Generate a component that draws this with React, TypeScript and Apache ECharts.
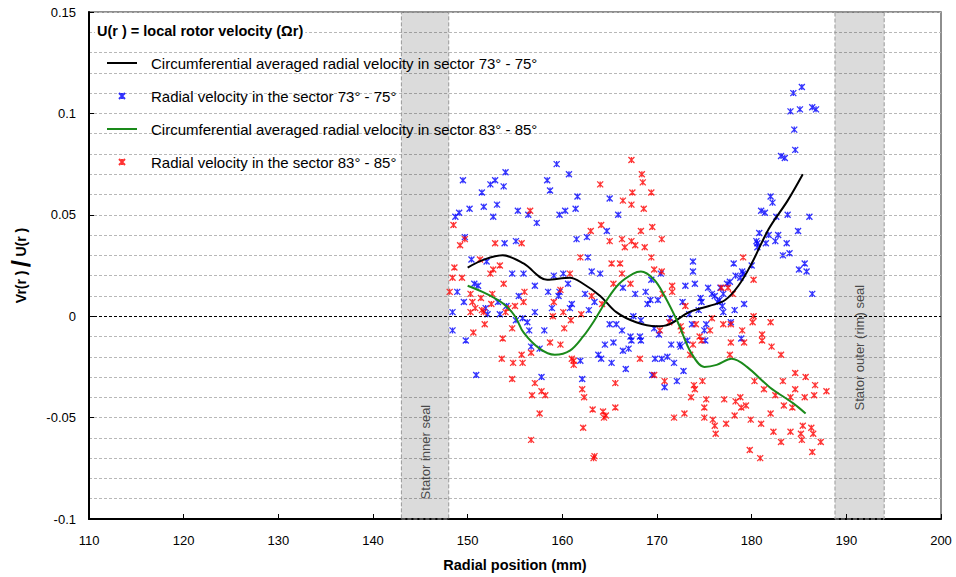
import React, { useEffect, useRef } from "react";
import * as echarts from "echarts";

// Radial velocity samples, sector 73° - 75° : [radial position (mm), Vr/U]
const sector73Points: [number, number][] = [
  [149.5, 0.067], [148.7, 0.049], [149.1, 0.051], [150.2, 0.053], [149.7, 0.039], [150.4, 0.028],
  [151.5, 0.061], [151.7, 0.054], [152.4, 0.065], [152.9, 0.067], [154.0, 0.071], [153.8, 0.064],
  [153.1, 0.055], [152.7, 0.049], [153.9, 0.036], [155.1, 0.037], [155.3, 0.052], [156.4, 0.050],
  [157.3, 0.046], [158.4, 0.067], [158.7, 0.062], [159.4, 0.075], [160.7, 0.070], [159.7, 0.050],
  [160.3, 0.052], [161.4, 0.053], [161.6, 0.059], [161.5, 0.038], [162.6, 0.039], [162.7, 0.029],
  [165.0, 0.058], [165.9, 0.050], [164.7, 0.042], [163.1, 0.022], [164.0, 0.021], [154.7, 0.021],
  [155.9, 0.021], [159.1, 0.020], [160.1, 0.021], [152.0, 0.027],
  [185.3, 0.113], [184.4, 0.110], [184.1, 0.101], [185.1, 0.102], [186.4, 0.103], [186.8, 0.102],
  [184.5, 0.092], [184.6, 0.082], [183.1, 0.079], [183.5, 0.078], [182.0, 0.059], [182.2, 0.056],
  [181.0, 0.052], [181.4, 0.051], [182.6, 0.049], [183.8, 0.050], [186.1, 0.049], [184.9, 0.042],
  [180.8, 0.041], [181.8, 0.040], [182.8, 0.040], [182.5, 0.037], [180.5, 0.037], [180.6, 0.036],
  [181.5, 0.036], [183.7, 0.036], [180.6, 0.034], [183.3, 0.030], [184.0, 0.031], [185.6, 0.026],
  [185.0, 0.023], [185.8, 0.022], [173.8, 0.027], [173.8, 0.022], [178.1, 0.026], [179.0, 0.022],
  [180.0, 0.025],
  [150.7, 0.016], [151.1, 0.015], [148.9, 0.012], [148.4, 0.002], [149.6, 0.007], [151.9, 0.004],
  [152.1, 0.001], [153.2, 0.007], [154.1, 0.005], [153.4, 0.001], [155.4, 0.010], [157.1, 0.015],
  [158.5, 0.012], [159.6, 0.010], [159.7, 0.012], [160.6, 0.016], [158.9, 0.004], [161.0, 0.006],
  [160.8, 0.004], [157.1, 0.002], [162.4, 0.011], [163.4, 0.007], [162.8, 0.003], [155.8, -0.001],
  [156.3, -0.003], [155.1, -0.002], [148.4, -0.007], [149.8, -0.012], [156.5, -0.007], [158.1, -0.007],
  [156.7, -0.015], [157.6, -0.016], [165.0, -0.004], [165.7, -0.004], [166.3, -0.007], [167.2, -0.010],
  [167.3, -0.012], [164.5, -0.014], [165.4, -0.013], [166.4, -0.017], [167.0, -0.016], [163.8, -0.019],
  [164.1, -0.021], [161.9, -0.022], [165.2, -0.023], [166.7, -0.026], [150.9, -0.029], [157.8, -0.030],
  [162.1, -0.031], [166.4, 0.014],
  [170.4, 0.021], [169.4, 0.018], [173.0, 0.015], [174.0, 0.016], [167.7, 0.011], [168.8, 0.012],
  [169.3, 0.008], [170.1, 0.008], [169.0, 0.006], [175.4, 0.014], [175.8, 0.011], [176.1, 0.010],
  [177.0, 0.011], [176.7, 0.014], [177.4, 0.016], [177.7, 0.017], [178.3, 0.020], [178.8, 0.019],
  [179.1, 0.021], [174.6, 0.009], [174.7, 0.007], [172.7, 0.007], [176.4, 0.007], [176.9, 0.005],
  [174.4, 0.003], [173.4, 0.001], [178.2, 0.003], [179.2, 0.006], [177.0, 0.002], [167.5, 0.000],
  [168.3, -0.002], [171.4, -0.001], [173.7, -0.004], [175.2, -0.004], [175.0, -0.007], [177.8, -0.003],
  [169.7, -0.006], [170.2, -0.009], [168.2, -0.010], [168.3, -0.012], [173.2, -0.012], [175.1, -0.012],
  [178.9, -0.011], [171.5, -0.014], [172.4, -0.014], [172.5, -0.015], [169.8, -0.021], [170.5, -0.021],
  [171.1, -0.020], [171.8, -0.023], [172.8, -0.027], [169.5, -0.029], [170.8, -0.035], [172.1, -0.032],
  [186.4, 0.011], [176.6, 0.008],
];

// Radial velocity samples, sector 83° - 85°
const sector83Points: [number, number][] = [
  [148.5, 0.045], [149.7, 0.038], [149.2, 0.035], [152.9, 0.036], [155.7, 0.036], [156.6, 0.052],
  [164.0, 0.065], [166.4, 0.057], [167.3, 0.055], [167.4, 0.061], [167.3, 0.077], [164.1, 0.045],
  [163.0, 0.042], [165.0, 0.037], [166.3, 0.038], [166.6, 0.034], [167.3, 0.037], [161.9, 0.029],
  [151.3, 0.028], [148.6, 0.024], [152.7, 0.023], [153.4, 0.025], [152.4, 0.021], [160.8, 0.021],
  [165.2, 0.026], [166.1, 0.026], [166.3, 0.021],
  [168.4, 0.070], [168.5, 0.066], [169.4, 0.061], [168.6, 0.053], [168.3, 0.042], [169.5, 0.044],
  [167.7, 0.035], [168.7, 0.034], [170.5, 0.038], [169.4, 0.029], [169.7, 0.023], [170.5, 0.022],
  [179.1, 0.029],
  [148.4, 0.019], [149.4, 0.019], [153.8, 0.016], [148.1, 0.012], [150.3, 0.011], [151.4, 0.009],
  [152.6, 0.011], [156.0, 0.012], [155.9, 0.007], [159.1, 0.007], [159.8, 0.013], [163.1, 0.010],
  [165.4, 0.016], [150.5, 0.007], [150.8, 0.004], [151.5, 0.003], [151.7, 0.002], [152.5, 0.006],
  [154.3, 0.004], [155.0, 0.005], [154.0, 0.002], [150.3, 0.002], [151.8, -0.004], [150.6, -0.008],
  [154.7, -0.006], [159.0, 0.000], [160.1, 0.002], [162.0, 0.001], [160.9, -0.002], [160.2, -0.006],
  [164.2, 0.006], [153.7, -0.011], [158.7, -0.013], [159.8, -0.014], [155.7, -0.019], [156.7, -0.018],
  [153.6, -0.021], [154.8, -0.023], [155.8, -0.023], [161.0, -0.021], [161.2, -0.022], [161.2, -0.024],
  [154.7, -0.031], [157.1, -0.033], [156.8, -0.039], [157.8, -0.037], [158.2, -0.039], [162.1, -0.036],
  [162.3, -0.040], [157.6, -0.048], [165.6, -0.033], [163.2, -0.046], [164.3, -0.047], [164.6, -0.049],
  [164.4, -0.050], [165.6, -0.045], [162.2, -0.055], [156.7, -0.061], [163.4, -0.069], [163.3, -0.070],
  [167.2, 0.016], [171.6, 0.015], [171.6, 0.012], [170.6, 0.011], [173.0, 0.005], [178.0, 0.011],
  [177.5, 0.014], [176.8, 0.014], [171.3, -0.003], [174.1, -0.004], [170.3, -0.007], [172.5, -0.005],
  [172.6, -0.007], [175.6, -0.007], [175.8, -0.001], [177.0, -0.004], [180.2, 0.000], [180.1, -0.003],
  [182.0, -0.003], [179.0, -0.007], [174.5, -0.010], [174.7, -0.012], [173.8, -0.014], [177.8, -0.013],
  [181.1, -0.009], [181.1, -0.012], [179.2, -0.013], [182.1, -0.015], [183.1, -0.019], [173.5, -0.019],
  [177.7, -0.019], [168.2, -0.021], [169.7, -0.029], [170.8, -0.032], [174.8, -0.032], [173.9, -0.034],
  [174.0, -0.036], [180.3, -0.032], [184.6, -0.028], [185.7, -0.030], [183.3, -0.032], [181.3, -0.036],
  [184.6, -0.036], [186.7, -0.034], [186.6, -0.039], [185.6, -0.040], [182.5, -0.039], [184.1, -0.040],
  [173.6, -0.040], [175.2, -0.041], [177.1, -0.041], [178.8, -0.040], [178.3, -0.042], [179.4, -0.044],
  [178.9, -0.045], [175.0, -0.045], [183.4, -0.044], [184.3, -0.045], [172.9, -0.048], [171.8, -0.050],
  [182.0, -0.048], [178.2, -0.049], [175.0, -0.050], [175.9, -0.051], [176.1, -0.054], [176.2, -0.058],
  [177.3, -0.053], [179.9, -0.051], [181.0, -0.053], [185.4, -0.054], [186.3, -0.055], [186.5, -0.058],
  [182.3, -0.057], [184.1, -0.057], [185.2, -0.058], [185.3, -0.061], [183.1, -0.062], [187.3, -0.062],
  [179.8, -0.066], [186.4, -0.067], [180.9, -0.070], [187.9, -0.037], [180.2, 0.018], [177.8, -0.004],
];

// Circumferentially averaged profiles
const sector73Mean: [number, number][] = [
  [150.0, 0.024], [151.8, 0.028], [153.7, 0.030], [155.9, 0.026], [158.4, 0.018], [160.8, 0.019],
  [162.2, 0.016], [164.0, 0.010], [165.7, 0.002], [167.8, -0.003], [169.9, -0.005], [171.3, -0.004],
  [173.4, 0.002], [175.5, 0.005], [177.2, 0.008], [178.6, 0.015], [180.0, 0.026], [181.8, 0.043],
  [183.8, 0.057], [185.4, 0.070],
];

const sector83Mean: [number, number][] = [
  [150.0, 0.015], [152.0, 0.011], [153.8, 0.006], [155.0, 0.000], [155.9, -0.008], [157.6, -0.016],
  [159.2, -0.019], [160.8, -0.017], [162.2, -0.010], [163.4, -0.002], [164.7, 0.008], [166.0, 0.016],
  [167.5, 0.021], [168.3, 0.022], [169.7, 0.018], [170.8, 0.010], [172.2, -0.003], [173.6, -0.018],
  [175.0, -0.025], [176.3, -0.024], [177.9, -0.021], [179.5, -0.025], [181.9, -0.035], [184.4, -0.043],
  [185.7, -0.048],
];

// Seal locations (mm) and their captions
const sealBands: [number, number][] = [[143, 148], [188.8, 194]];
const sealNames = ["Stator inner seal", "Stator outer (rim) seal"];
const sealCaptionY = [-0.067, -0.0155];

const seriesNames = [
  "Circumferential averaged radial velocity in sector 73° - 75°",
  "Radial velocity in the sector 73° - 75°",
  "Circumferential averaged radial velocity in sector 83° - 85°",
  "Radial velocity in the sector 83° - 85°",
];

const FONT = "Liberation Sans, Arial, sans-serif";
const STAR = "path://M0,0L10,10M10,0L0,10M5,0L5,10";

export default function App() {
  const ref = useRef<HTMLDivElement>(null);

  useEffect(() => {
    if (!ref.current) return;
    const chart = echarts.init(ref.current, null, { renderer: "svg" });

    const gridDash = { color: "#b8b8b8", type: [3, 2] as number[], width: 1 };
    // line entries of the legend show only their stroke, no centre marker
    const hiddenMarker = { color: "transparent", borderColor: "transparent", borderWidth: 0 };

    chart.setOption({
      animation: false,
      backgroundColor: "#fff",
      textStyle: { fontFamily: FONT },
      grid: {
        left: 81, right: 15, top: 12, bottom: 58,
        show: true, borderColor: "#6a6a6a", borderWidth: 1.5, backgroundColor: "transparent",
      },
      title: {
        text: "U(r ) = local rotor velocity (Ωr)",
        left: 95, top: 23, padding: [0, 2, 0, 2],
        backgroundColor: "#fff",
        textStyle: { fontFamily: FONT, fontSize: 14.5, fontWeight: "bold", color: "#000" },
      },
      legend: {
        data: [
          { name: seriesNames[0], itemStyle: hiddenMarker },
          { name: seriesNames[1] },
          { name: seriesNames[2], itemStyle: hiddenMarker },
          { name: seriesNames[3] },
        ],
        orient: "vertical",
        left: 106, top: 54, padding: 0,
        itemWidth: 30, itemHeight: 6, itemGap: 15,
        selectedMode: false,
        textStyle: {
          fontFamily: FONT, fontSize: 15, color: "#000", lineHeight: 18,
          padding: [0, 2, 0, 9],
        },
      },
      xAxis: {
        type: "value", min: 110, max: 200, interval: 10,
        name: "Radial position (mm)", nameLocation: "middle", nameGap: 38,
        nameTextStyle: { fontFamily: FONT, fontSize: 14.5, fontWeight: "bold", color: "#000" },
        axisLine: { onZero: false, lineStyle: { color: "#000", width: 2 } },
        axisTick: { inside: true, length: 5, lineStyle: { color: "#000" } },
        axisLabel: { fontFamily: FONT, fontSize: 13, color: "#000", margin: 15 },
        splitLine: { show: false },
      },
      yAxis: {
        type: "value", min: -0.1, max: 0.15, interval: 0.05,
        name: "{a|Vr(r )} {b|/} {a|U(r )}", nameLocation: "middle", nameGap: 55,
        nameTextStyle: {
          rich: {
            a: { fontFamily: FONT, fontSize: 14, fontWeight: "bold", color: "#000" },
            b: { fontFamily: FONT, fontSize: 26, fontWeight: "bold", color: "#000" },
          },
        },
        axisLine: { onZero: false, lineStyle: { color: "#000", width: 2 } },
        axisTick: { inside: true, length: 5, lineStyle: { color: "#000" } },
        axisLabel: { fontFamily: FONT, fontSize: 13, color: "#000", margin: 13 },
        splitLine: { show: true, lineStyle: gridDash },
        minorTick: { show: false, splitNumber: 5 },
        minorSplitLine: { show: true, lineStyle: gridDash },
      },
      series: [
        {
          name: seriesNames[0],
          type: "line",
          data: sector73Mean,
          smooth: 0.35,
          symbol: "none",
          lineStyle: { color: "#000", width: 2 },
          itemStyle: { color: "#000" },
          z: 5,
          markArea: {
            silent: true,
            itemStyle: {
              color: "rgba(0,0,0,0.14)", borderColor: "#999", borderWidth: 1, borderType: "dashed",
            },
            data: sealBands.map(([a, b]) => [{ xAxis: a }, { xAxis: b }]),
          },
          markLine: {
            silent: true,
            symbol: "none",
            label: { show: false },
            lineStyle: { color: "#000", type: [3, 2], width: 1 },
            data: [{ yAxis: 0 }],
          },
        },
        {
          name: seriesNames[1],
          type: "scatter",
          data: sector73Points,
          symbol: STAR,
          symbolSize: 6,
          itemStyle: { color: "#0000ff", borderColor: "#0000ff", borderWidth: 1.3 },
          z: 3,
        },
        {
          name: seriesNames[2],
          type: "line",
          data: sector83Mean,
          smooth: 0.35,
          symbol: "none",
          lineStyle: { color: "#1a8a1a", width: 2 },
          itemStyle: { color: "#1a8a1a" },
          z: 5,
        },
        {
          name: seriesNames[3],
          type: "scatter",
          data: sector83Points,
          symbol: STAR,
          symbolSize: 6,
          itemStyle: { color: "#ff0000", borderColor: "#ff0000", borderWidth: 1.3 },
          z: 3,
        },
        {
          name: "seals",
          type: "scatter",
          symbolSize: 1,
          itemStyle: { color: "transparent" },
          silent: true,
          data: sealBands.map(([a, b], i) => ({
            name: sealNames[i],
            value: [(a + b) / 2, sealCaptionY[i]],
          })),
          label: {
            show: true, position: "inside", rotate: 90,
            formatter: (p: any) => p.name,
            fontFamily: FONT, fontSize: 13, color: "#222",
          },
        },
      ],
    });

    return () => chart.dispose();
  }, []);

  return (
    <div
      ref={ref}
      style={{ position: "fixed", left: 0, top: 0, width: 956, height: 577 }}
    />
  );
}
